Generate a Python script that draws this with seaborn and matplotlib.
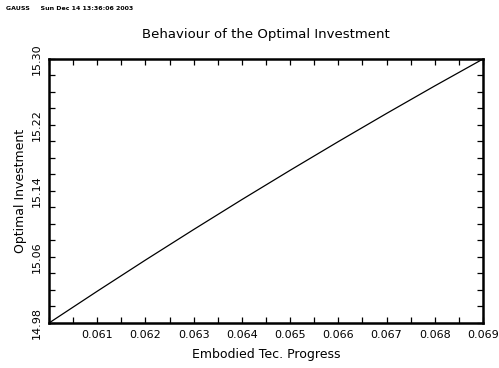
import matplotlib
matplotlib.use("Agg")
import matplotlib.pyplot as plt
from matplotlib.ticker import MultipleLocator, FixedLocator, FixedFormatter
import seaborn as sns
import pandas as pd

# Embodied technical progress rate vs. optimal investment
progress = [0.060, 0.061, 0.062, 0.063, 0.064, 0.065, 0.066, 0.067, 0.068, 0.069]
investment = [14.980, 15.0185, 15.0563, 15.0933, 15.1296, 15.1651, 15.1999, 15.2340, 15.2674, 15.300]

x_ticks = [0.061, 0.062, 0.063, 0.064, 0.065, 0.066, 0.067, 0.068, 0.069]
x_labels = ["0.061", "0.062", "0.063", "0.064", "0.065", "0.066", "0.067", "0.068", "0.069"]
y_ticks = [14.98, 15.06, 15.14, 15.22, 15.30]
y_labels = ["14.98", "15.06", "15.14", "15.22", "15.30"]

sns.set_style("white")
plt.rcParams["font.family"] = ["DejaVu Sans"]
plt.rcParams["text.color"] = "black"
plt.rcParams["axes.labelcolor"] = "black"
plt.rcParams["xtick.color"] = "black"
plt.rcParams["ytick.color"] = "black"

df = pd.DataFrame({"progress": progress, "investment": investment})

fig = plt.figure(figsize=(4.99, 3.68), dpi=100)
ax = fig.add_axes([0.0982, 0.1223, 0.8698, 0.7174])

sns.lineplot(data=df, x="progress", y="investment", ax=ax, color="black", linewidth=0.9)

ax.set_xlim(0.060, 0.069)
ax.set_ylim(14.98, 15.30)

ax.xaxis.set_major_locator(FixedLocator(x_ticks))
ax.xaxis.set_major_formatter(FixedFormatter(x_labels))
ax.xaxis.set_minor_locator(MultipleLocator(0.0005))
ax.yaxis.set_major_locator(FixedLocator(y_ticks))
ax.yaxis.set_major_formatter(FixedFormatter(y_labels))
ax.yaxis.set_minor_locator(MultipleLocator(0.02))

ax.tick_params(which="both", direction="in", length=4, width=0.9, color="black",
               top=True, right=True, bottom=True, left=True, labelsize=8, pad=5,
               labelcolor="black")
for lab in ax.get_yticklabels():
    lab.set_rotation(90)
    lab.set_va("center")

for s in ax.spines.values():
    s.set_visible(True)
    s.set_color("black")
    s.set_linewidth(1.8)

ax.set_xlabel("Embodied Tec. Progress", fontsize=9, labelpad=6, color="black")
ax.set_ylabel("Optimal Investment", fontsize=9, labelpad=4, color="black")
ax.set_title("Behaviour of the Optimal Investment", fontsize=9.5, pad=15, color="black")

fig.text(0.012, 0.978, "GAUSS     Sun Dec 14 13:36:06 2003", fontsize=4.5,
         fontweight="bold", va="center", ha="left", color="black")

fig.savefig("out.png", dpi=100, facecolor="white")
